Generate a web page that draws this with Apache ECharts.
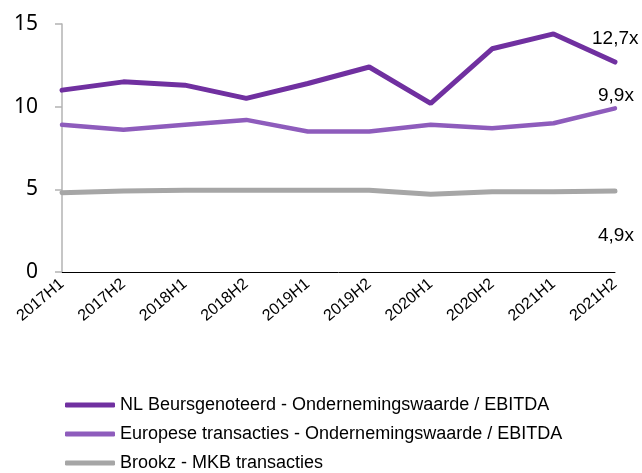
<!DOCTYPE html>
<html>
  <head>
    <meta charset="UTF-8">
    <script src="https://cdn.jsdelivr.net/npm/echarts@6/dist/echarts.min.js"></script>
    <title>Multiples</title>
  </head>
  <body style="margin:0">
    <div id="main" style="width:642px;height:473px;"></div>
    <script type="text/javascript">
      var categories = ['2017H1', '2017H2', '2018H1', '2018H2', '2019H1', '2019H2', '2020H1', '2020H2', '2021H1', '2021H2'];
      var seriesNames = [
        'NL Beursgenoteerd - Ondernemingswaarde / EBITDA',
        'Europese transacties - Ondernemingswaarde / EBITDA',
        'Brookz - MKB transacties'
      ];
      var nlListed = [11.0, 11.5, 11.3, 10.5, 11.4, 12.4, 10.2, 13.5, 14.4, 12.7];
      var euDeals = [8.9, 8.6, 8.9, 9.2, 8.5, 8.5, 8.9, 8.7, 9.0, 9.9];
      var brookz = [4.8, 4.9, 4.95, 4.95, 4.95, 4.95, 4.7, 4.85, 4.85, 4.9];
      var endLabels = ['12,7x', '9,9x', '4,9x'];

      var sans = '"Liberation Sans", Arial, sans-serif';
      var colors = ['#7030a0', '#8e5cbc', '#a6a6a6'];
      // where each end label sits relative to the last point
      var labelOffsets = [[-31, -23], [-25, -13], [-25, 45]];
      var widths = [5, 4.5, 5];

      var myChart = echarts.init(document.getElementById('main'));

      var series = seriesNames.map(function (name, i) {
        return {
          name: name,
          type: 'line',
          symbol: 'none',
          lineStyle: { width: widths[i], cap: 'round' },
          data: [nlListed, euDeals, brookz][i],
          endLabel: {
            show: true,
            formatter: endLabels[i],
            offset: labelOffsets[i],
            color: '#000',
            fontSize: 19,
            fontFamily: sans
          }
        };
      });

      var option = {
        animation: false,
        color: colors,
        grid: { left: 62, right: 27, top: 24, bottom: 201, containLabel: false },
        legend: {
          orient: 'vertical',
          left: 60,
          top: 391,
          height: 120,
          itemWidth: 50,
          itemHeight: 5,
          itemGap: 11,
          icon: 'roundRect',
          textStyle: { fontSize: 18, color: '#000', fontFamily: sans },
          data: seriesNames
        },
        xAxis: {
          type: 'category',
          data: categories,
          boundaryGap: false,
          axisLine: { lineStyle: { color: '#000', width: 1 } },
          axisTick: { show: false },
          axisLabel: {
            rotate: 40,
            fontSize: 16,
            color: '#000',
            margin: 10,
            fontFamily: sans
          }
        },
        yAxis: {
          type: 'value',
          min: 0,
          max: 15,
          interval: 5,
          splitLine: { show: false },
          axisLine: { show: true, lineStyle: { color: '#b3b3b3', width: 1.5 } },
          axisTick: { show: true, length: 7, lineStyle: { color: '#b3b3b3', width: 1.5 } },
          axisLabel: {
            fontSize: 21,
            color: '#000',
            margin: 24,
            fontFamily: '"Noto Sans", "Open Sans", sans-serif'
          }
        },
        series: series
      };

      myChart.setOption(option);
    </script>
  </body>
</html>
